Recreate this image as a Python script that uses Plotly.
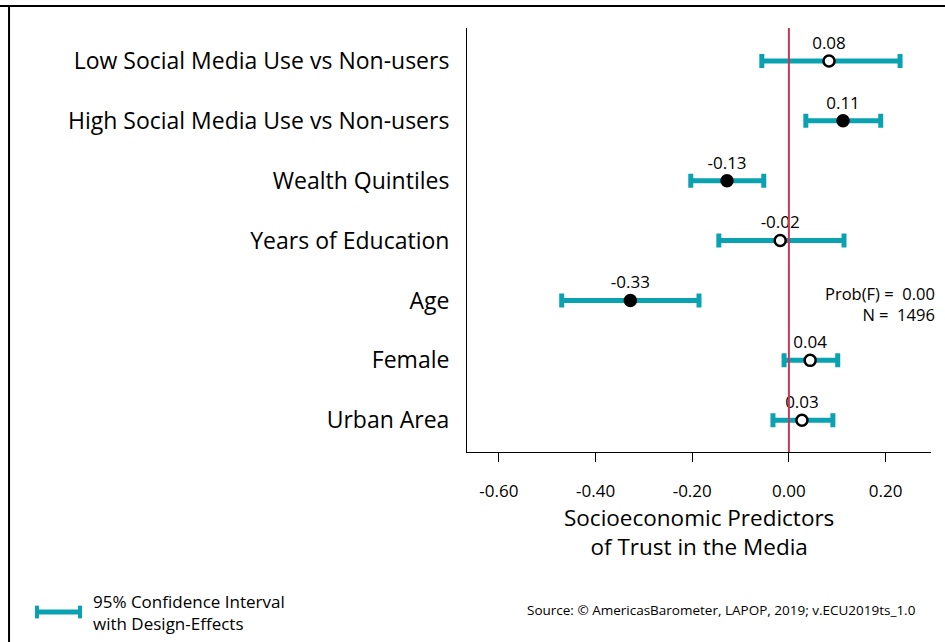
import plotly.graph_objects as go

predictors = ["Low Social Media Use vs Non-users", "High Social Media Use vs Non-users",
              "Wealth Quintiles", "Years of Education", "Age", "Female", "Urban Area"]
coef = [0.083, 0.112, -0.128, -0.018, -0.328, 0.044, 0.027]
ci_low = [-0.056, 0.035, -0.203, -0.145, -0.470, -0.010, -0.033]
ci_high = [0.230, 0.190, -0.052, 0.114, -0.186, 0.101, 0.091]
significant = [False, True, True, False, True, False, False]

x_ticks = [-0.6, -0.4, -0.2, 0.0, 0.2]
x_ticktext = ["-0.60", "-0.40", "-0.20", "0.00", "0.20"]

x_title = "Socioeconomic Predictors<br>of Trust in the Media"
prob_f = 0.00
n_obs = 1496

teal = "#0aa2b1"
font = "Open Sans"

err_plus = [h - c for h, c in zip(ci_high, coef)]
err_minus = [c - l for c, l in zip(coef, ci_low)]

fig = go.Figure()

fig.add_vline(x=0, line_color="#c8375a", line_width=2)

# confidence intervals + point estimates
fig.add_trace(go.Scatter(
    x=coef, y=predictors, mode="markers+text",
    error_x=dict(type="data", symmetric=False, array=err_plus, arrayminus=err_minus,
                 color=teal, thickness=5, width=7),
    marker=dict(size=11,
                color=["black" if s else "white" for s in significant],
                line=dict(color="black", width=2.5)),
    text=[f"{c:.2f}" for c in coef], textposition="top center",
    textfont=dict(family=font, size=17, color="black"),
    showlegend=False, hoverinfo="skip"))

fig.update_yaxes(
    type="category", range=[6.53, -0.55], showline=True, linecolor="black", linewidth=1,
    ticks="", showgrid=False, zeroline=False, ticklabelstandoff=12,
    tickfont=dict(family=font, size=23, color="black"))

fig.update_xaxes(
    range=[-0.666, 0.294], showline=True, linecolor="black", linewidth=1,
    ticks="outside", ticklen=9, tickcolor="black", tickvals=x_ticks, ticktext=x_ticktext,
    showgrid=False, zeroline=False, ticklabelstandoff=15,
    tickfont=dict(family=font, size=17, color="black"))

fig.add_annotation(xref="paper", yref="paper", x=0.5, y=-0.1887, xanchor="center",
                   yanchor="middle", showarrow=False, text=x_title,
                   font=dict(family=font, size=22.5, color="black"))

fig.add_annotation(xref="paper", yref="paper", x=1.0129, y=0.3502, xanchor="right",
                   yanchor="middle", align="right", showarrow=False,
                   text=f"Prob(F) =  {prob_f:.2f}<br>N =  {n_obs}",
                   font=dict(family=font, size=16.5, color="black"))

# frame lines (top and left)
fig.add_shape(type="line", xref="paper", yref="paper", x0=-1.01, x1=1.04, y0=1.0519, y1=1.0519,
              line=dict(color="black", width=2))
fig.add_shape(type="line", xref="paper", yref="paper", x0=-0.987, x1=-0.987, y0=1.0519, y1=-0.46,
              line=dict(color="black", width=2))

# legend key
fig.add_shape(type="line", xref="paper", yref="paper", x0=-0.9267, x1=-0.834, y0=-0.3774, y1=-0.3774,
              line=dict(color=teal, width=5))
for xc in [-0.9267, -0.834]:
    fig.add_shape(type="line", xref="paper", yref="paper", x0=xc, x1=xc, y0=-0.3624, y1=-0.3924,
                  line=dict(color=teal, width=4))
fig.add_annotation(xref="paper", yref="paper", x=-0.81, y=-0.3797, xanchor="left",
                   yanchor="middle", align="left", showarrow=False,
                   text="95% Confidence Interval<br>with Design-Effects",
                   font=dict(family=font, size=17, color="black"))

fig.add_annotation(
    xref="paper", yref="paper", x=0.972, y=-0.3726, xanchor="right", yanchor="middle",
    showarrow=False,
    text="Source: © AmericasBarometer, LAPOP, 2019; v.ECU2019ts_1.0",
    font=dict(family=font, size=13.5, color="black"))

fig.update_layout(
    width=945, height=642,
    margin=dict(l=467, r=14, t=28, b=190),
    plot_bgcolor="white", paper_bgcolor="white",
    font=dict(family=font, color="black"))

fig.write_html("out.html", config={"displayModeBar": False},
               post_script="document.body.style.margin='0';")
